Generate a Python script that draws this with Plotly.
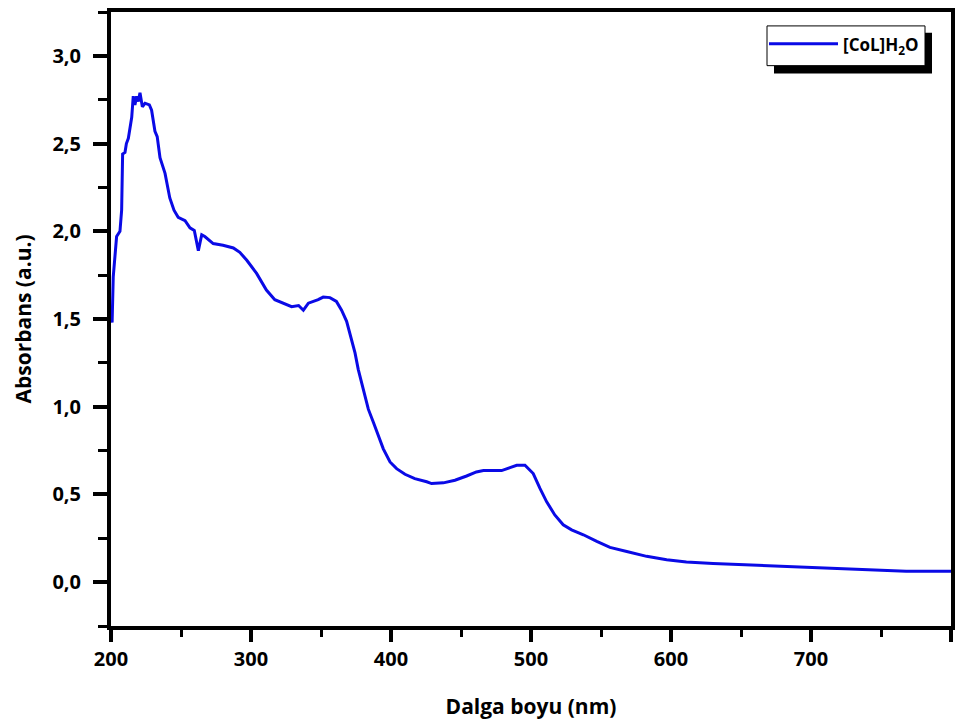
import plotly.graph_objects as go

wavelength = [200, 200.8, 201.6, 202.9, 204, 206.4, 207.6, 208.3, 210, 211, 212.4, 214.8,
              215.9, 217.1, 218.3, 219.5, 220.7, 222.4, 224.3, 227.4, 229, 231.4, 233, 235,
              238.6, 242, 245, 248, 252.9, 256.4, 259.5, 262.4, 264.8, 267, 273, 280, 287.4,
              292, 297, 304, 311, 317, 323, 329, 334, 337.4, 341, 344.5, 348, 351.6, 356.4,
              361, 364.7, 368.3, 370.7, 374.3, 376.6, 379, 381.4, 383.8, 387.4, 391, 394.5,
              399.3, 404, 410, 417, 425.5, 429, 437.4, 445.7, 454, 461, 466, 479, 485, 489.8,
              495.7, 501.6, 506.4, 511.2, 517, 523, 529, 537.4, 547, 556.4, 568.4, 582.6,
              596.9, 611, 630, 661, 689.7, 713.6, 742, 768, 800]
absorbance = [1.55, 1.48, 1.74, 1.87, 1.97, 2.0, 2.12, 2.44, 2.45, 2.50, 2.53, 2.65,
              2.77, 2.72, 2.77, 2.74, 2.79, 2.71, 2.73, 2.72, 2.69, 2.57, 2.54, 2.42,
              2.33, 2.19, 2.12, 2.08, 2.06, 2.02, 2.005, 1.89, 1.98, 1.97, 1.93, 1.92, 1.905,
              1.88, 1.835, 1.76, 1.665, 1.61, 1.59, 1.57, 1.577, 1.55, 1.59, 1.60, 1.61, 1.625, 1.622,
              1.60, 1.55, 1.487, 1.42, 1.307, 1.213, 1.137, 1.062, 0.986, 0.911, 0.836, 0.76,
              0.685, 0.647, 0.615, 0.59, 0.572, 0.562, 0.566, 0.581, 0.605, 0.628, 0.636, 0.636, 0.653, 0.666,
              0.666, 0.619, 0.534, 0.458, 0.383, 0.327, 0.298, 0.27, 0.232, 0.198, 0.175, 0.147,
              0.128, 0.115, 0.106, 0.096, 0.085, 0.078, 0.07, 0.062, 0.062]

series_name = "[CoL]H<sub>2</sub>O"
x_title = "Dalga boyu (nm)"
y_title = "Absorbans (a.u.)"

LINE_COLOR = "#0a0ae6"
FONT = "Open Sans"

fig = go.Figure()
fig.add_trace(go.Scatter(x=wavelength, y=absorbance, mode="lines",
                         line=dict(color=LINE_COLOR, width=3), name=series_name,
                         showlegend=False))

# page has an 8px body margin; target plot area in page pixels: x 111..951, y 8..626
W, H = 960, 712
L, R, T, B = 103, 17, 0, 94
PX0, PX1, PY0, PY1 = 111, 951, 8, 626
pw, ph = PX1 - PX0, PY1 - PY0

def px(x):
    return (x - PX0) / pw

def py(y):
    return (PY1 - y) / ph

# manual legend with drop shadow
fig.add_shape(type="rect", xref="paper", yref="paper",
              x0=px(774), x1=px(932), y0=py(70), y1=py(29),
              fillcolor="black", line=dict(width=0), layer="above")
fig.add_shape(type="rect", xref="paper", yref="paper",
              x0=px(767), x1=px(925), y0=py(62), y1=py(22),
              fillcolor="white", line=dict(color="black", width=1), layer="above")
fig.add_shape(type="line", xref="paper", yref="paper",
              x0=px(769), x1=px(838), y0=py(40), y1=py(40),
              line=dict(color=LINE_COLOR, width=3), layer="above")
fig.add_annotation(xref="paper", yref="paper", x=px(841), y=py(42),
                   xanchor="left", yanchor="middle", showarrow=False,
                   text="<b>" + series_name + "</b>",
                   font=dict(family=FONT, size=17, color="black"))

axis_common = dict(showline=True, linecolor="black", linewidth=4, mirror=True,
                   ticks="outside", tickwidth=4, tickcolor="black",
                   showgrid=False, zeroline=False,
                   tickfont=dict(family=FONT, size=20, color="black", weight="bold"),
                   title_font=dict(family=FONT, size=21, color="black", weight="bold"))

fig.update_xaxes(range=[200, 800], tick0=200, dtick=100, ticklen=12,
                 minor=dict(ticks="outside", dtick=50, ticklen=7, tickwidth=3, tickcolor="black"),
                 title_text=x_title, title_standoff=30, **axis_common)
fig.update_yaxes(range=[-0.25, 3.25], tick0=0, dtick=0.5, tickformat=".1f", ticklen=14,
                 ticklabelstandoff=8,
                 minor=dict(ticks="outside", dtick=0.25, ticklen=9, tickwidth=3, tickcolor="black"),
                 title_text=y_title, title_standoff=16, **axis_common)

fig.update_layout(width=W, height=H, margin=dict(l=L, r=R, t=T, b=B),
                  paper_bgcolor="white", plot_bgcolor="white", separators=", ")

fig.write_html("out.html")
